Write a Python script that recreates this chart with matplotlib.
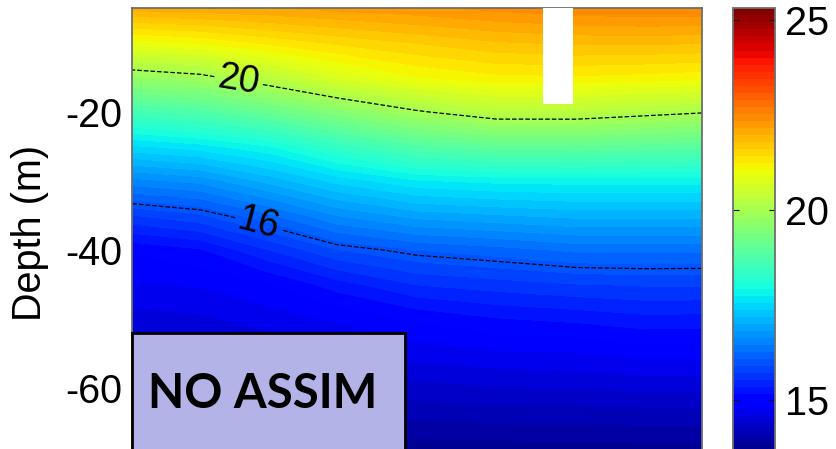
import numpy as np
import matplotlib
matplotlib.use('Agg')
import matplotlib.pyplot as plt
from matplotlib.colors import Normalize
from matplotlib.cm import ScalarMappable
from matplotlib.patches import Rectangle

plt.rcParams['font.family'] = ['Liberation Sans', 'DejaVu Sans']
plt.rcParams['axes.unicode_minus'] = False

# position along the section (%) and depth (m)
dist = np.array([0, 12, 24, 36, 50, 64, 78, 90, 100])
depth = np.array([-5, -10, -15, -20, -25, -30, -35, -40, -45, -50, -55, -60, -65, -70])

# temperature (deg C): one row per depth, one column per station
temp = np.array([
    [22.05, 22.10, 22.15, 22.22, 22.30, 22.40, 22.48, 22.52, 22.52],
    [20.96, 21.08, 21.28, 21.46, 21.62, 21.77, 21.83, 21.83, 21.81],
    [19.73, 19.89, 20.28, 20.72, 21.05, 21.19, 21.21, 21.17, 21.12],
    [18.58, 18.76, 19.08, 19.50, 19.95, 20.26, 20.26, 20.13, 20.03],
    [17.52, 17.66, 17.90, 18.36, 18.79, 18.99, 19.00, 18.94, 18.89],
    [16.56, 16.69, 17.06, 17.43, 17.71, 17.79, 17.81, 17.81, 17.81],
    [15.70, 15.86, 16.22, 16.63, 16.89, 16.98, 17.06, 17.06, 17.06],
    [15.00, 15.13, 15.52, 15.88, 16.08, 16.18, 16.30, 16.31, 16.30],
    [14.77, 14.81, 14.95, 15.25, 15.53, 15.62, 15.70, 15.73, 15.73],
    [14.53, 14.57, 14.69, 14.82, 15.00, 15.14, 15.20, 15.28, 15.27],
    [14.30, 14.32, 14.43, 14.53, 14.68, 14.75, 14.78, 14.85, 14.85],
    [14.07, 14.08, 14.17, 14.24, 14.35, 14.40, 14.42, 14.46, 14.46],
    [13.83, 13.84, 13.91, 13.94, 14.03, 14.05, 14.06, 14.08, 14.08],
    [13.60, 13.60, 13.65, 13.65, 13.70, 13.70, 13.70, 13.70, 13.70],
])

contour_levels = [16, 20]
label_pos = [(18.6, -15.6), (22.2, -36.2)]

# no data in this part of the section
gap_x = [72.1, 77.4]
gap_bottom = -18.8

tmin, tmax = 13.5, 25.3
cbar_ticks = [15, 20, 25]
yticks = [-20, -40, -60]

W, H = 836, 449
fig = plt.figure(figsize=(W / 100, H / 100), dpi=100)

def px_axes(x0, x1, y0, y1):
    return fig.add_axes([x0 / W, 1 - y1 / H, (x1 - x0) / W, (y1 - y0) / H])

ax = px_axes(131.7, 702, 8.4, 457.5)
cax = px_axes(733, 775, 8.4, 457.5)

cmap = plt.get_cmap('jet', 64)
norm = Normalize(tmin, tmax)
levels = np.linspace(tmin, tmax, 65)

ax.contourf(dist, depth, temp, levels=levels, cmap=cmap, norm=norm)
cs = ax.contour(dist, depth, temp, levels=contour_levels, colors='k',
                linewidths=0.9, linestyles='--')
ax.clabel(cs, fmt='%d', fontsize=27, manual=label_pos, inline=True, inline_spacing=3)

ax.fill_between(gap_x, gap_bottom, depth[0], color='white', lw=0, zorder=3)

ax.set_xlim(dist[0], dist[-1])
ax.set_ylim(-70, -5)
ax.set_xticks([])
ax.set_yticks(yticks)
ax.tick_params(axis='y', length=0, pad=7, labelsize=28.5)
for s in ax.spines.values():
    s.set_color('#6e6e6e')
    s.set_linewidth(1.3)

cb = fig.colorbar(ScalarMappable(norm=norm, cmap=cmap), cax=cax, ticks=cbar_ticks)
cb.outline.set_edgecolor('#6e6e6e')
cb.outline.set_linewidth(1.3)
cax.tick_params(axis='y', direction='in', left=True, right=True, length=4,
                width=0.8, color='k', labelsize=28.5, pad=7)

fig.text(30 / W, 1 - 233 / H, 'Depth (m)', rotation=90, ha='center', va='center',
         fontsize=28.5)

fig.add_artist(Rectangle((131.7 / W, -0.05), (405 - 131.7) / W, 0.05 + (449 - 332.7) / H,
                         transform=fig.transFigure, facecolor='#b3b3e8',
                         edgecolor='k', lw=2, zorder=5))
fig.text(263 / W, 1 - 394 / H, 'NO ASSIM', ha='center', va='center', fontsize=34,
         fontweight='bold', family=['Lato', 'DejaVu Sans'], zorder=6)

fig.savefig('out.png', dpi=100)
